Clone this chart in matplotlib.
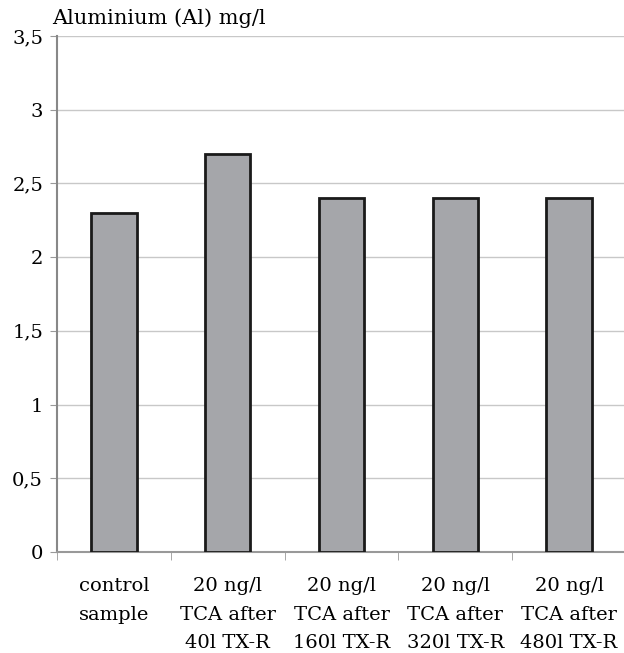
import numpy as np
import matplotlib.pyplot as plt
from matplotlib.ticker import FuncFormatter

categories = ["control\nsample",
              "20 ng/l\nTCA after\n40l TX-R",
              "20 ng/l\nTCA after\n160l TX-R",
              "20 ng/l\nTCA after\n320l TX-R",
              "20 ng/l\nTCA after\n480l TX-R"]
aluminium = [2.3, 2.7, 2.4, 2.4, 2.4]
yticks = [0, 0.5, 1, 1.5, 2, 2.5, 3, 3.5]

plt.rcParams['font.family'] = ['DejaVu Serif']

fig = plt.figure(figsize=(6.24, 6.53), dpi=100)
ax = fig.add_axes([57 / 624, 1 - 552 / 653, (626 - 57) / 624, (552 - 36) / 653])

x = np.arange(len(categories))
ax.bar(x, aluminium, width=0.4, color='#a5a6aa', edgecolor='#1a1a1a', linewidth=2, zorder=3)

ax.set_xlim(-0.5, len(categories) - 0.5)
ax.set_ylim(0, 3.5)
ax.set_yticks(yticks)
ax.yaxis.set_major_formatter(FuncFormatter(lambda v, p: f"{v:g}".replace('.', ',')))
ax.grid(axis='y', color='#c8c8c8', linewidth=1, zorder=0)

# category labels centred, tick marks at the category boundaries
ax.set_xticks(x)
ax.set_xticklabels(categories, fontsize=14, linespacing=1.75)
ax.tick_params(axis='x', length=0, pad=18)
ax.set_xticks(np.arange(len(categories) + 1) - 0.5, minor=True)
ax.tick_params(axis='x', which='minor', length=6, color='#999999')
ax.tick_params(axis='y', labelsize=14, length=5, color='#999999', pad=5)

for s in ['top', 'right']:
    ax.spines[s].set_visible(False)
ax.spines['left'].set_color('#888888')
ax.spines['left'].set_linewidth(1.5)
ax.spines['bottom'].set_color('#999999')
ax.spines['bottom'].set_linewidth(1.5)

fig.text(52 / 624, 1 - 18 / 653, "Aluminium (Al) mg/l", fontsize=15, va='center', ha='left')

fig.savefig("out.png", dpi=100)
